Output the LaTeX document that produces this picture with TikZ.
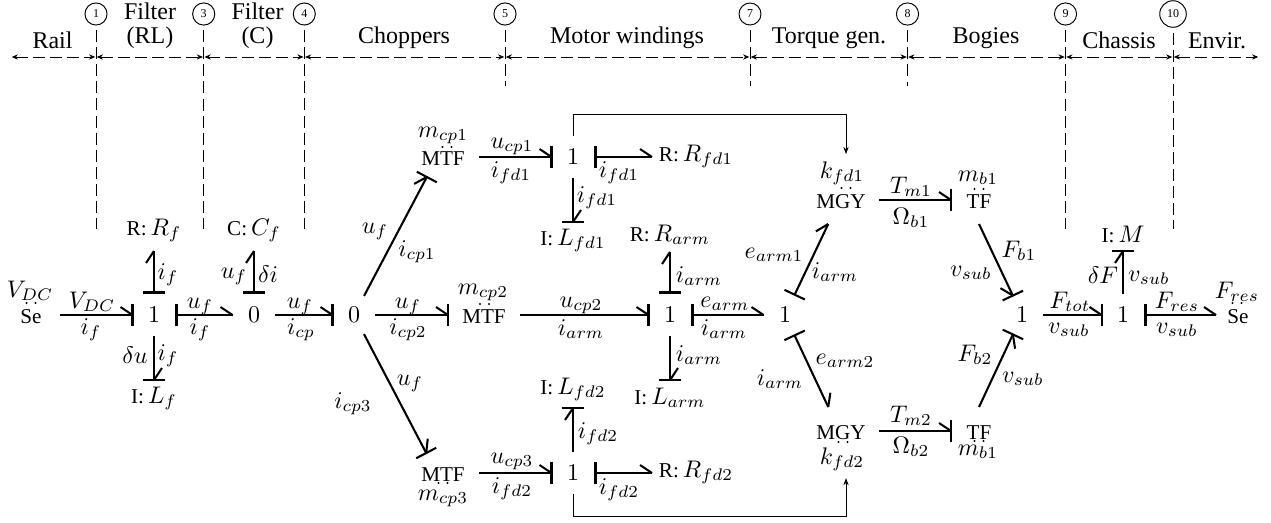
\documentclass[tikz,border=0pt]{standalone}
\usepackage[no-math]{fontspec}
\setmainfont{Liberation Serif}
\usetikzlibrary{arrows.meta,calc}
\newcommand{\twodots}[2]{\fill (#1-4.5,#2) circle (1.2) (#1+4.5,#2) circle (1.2);}
\newcommand{\et}[1]{{\fontsize{8.8}{10}\selectfont #1}}
% half arrow heads of the bonds: barb on the left, barb on the left with a bar, barb on the right with a bar
\pgfdeclarearrow{name=BarbL,
  setup code={\pgfarrowssettipend{0pt}\pgfarrowssetlineend{0pt}\pgfarrowssetbackend{-5pt}\pgfarrowssetvisualbackend{0pt}},
  drawing code={\pgfsetdash{}{0pt}\pgfpathmoveto{\pgfqpoint{-5pt}{3.33pt}}\pgfpathlineto{\pgfqpoint{0pt}{0pt}}\pgfusepathqstroke}}
\pgfdeclarearrow{name=BarbLBar,
  setup code={\pgfarrowssettipend{0pt}\pgfarrowssetlineend{0pt}\pgfarrowssetbackend{-5pt}\pgfarrowssetvisualbackend{0pt}},
  drawing code={\pgfsetdash{}{0pt}\pgfpathmoveto{\pgfqpoint{-5pt}{3.33pt}}\pgfpathlineto{\pgfqpoint{0pt}{0pt}}\pgfusepathqstroke
    \pgfpathmoveto{\pgfqpoint{0pt}{4.7pt}}\pgfpathlineto{\pgfqpoint{0pt}{-4.7pt}}\pgfusepathqstroke}}
\pgfdeclarearrow{name=BarbRBar,
  setup code={\pgfarrowssettipend{0pt}\pgfarrowssetlineend{0pt}\pgfarrowssetbackend{-5pt}\pgfarrowssetvisualbackend{0pt}},
  drawing code={\pgfsetdash{}{0pt}\pgfpathmoveto{\pgfqpoint{-5pt}{-3.33pt}}\pgfpathlineto{\pgfqpoint{0pt}{0pt}}\pgfusepathqstroke
    \pgfpathmoveto{\pgfqpoint{0pt}{4.7pt}}\pgfpathlineto{\pgfqpoint{0pt}{-4.7pt}}\pgfusepathqstroke}}
\tikzset{
  x=0.41667pt,y=-0.41667pt,
  jn/.style={circle,inner sep=0pt,outer sep=0pt,minimum size=17.9pt},
  el/.style 2 args={rectangle,inner sep=0pt,outer sep=0pt,text height=6.8pt,text depth=0pt,
    minimum width=#1*0.41667pt,minimum height=#2*0.41667pt},
  lbl/.style={anchor=base,inner sep=0pt,outer sep=0pt},
  klbl/.style={anchor=base,inner xsep=0pt,inner ysep=3pt,outer sep=0pt},
  title/.style={anchor=base,inner sep=0pt},
  num/.style={circle,draw,line width=0.4pt,inner sep=1.8pt,font=\tiny},
  bnd/.style={draw,line width=0.86pt,line cap=butt},
  cend/.style={bnd,-{BarbLBar}},
  cendr/.style={bnd,-{BarbRBar}},
  cstart/.style={bnd,{Bar[width=9.4pt]}-{BarbL}},
  vdash/.style={draw,line width=0.4pt,dash pattern=on 5pt off 2.1pt},
  adash/.style={draw,line width=0.4pt,dash pattern=on 5pt off 2.1pt,shorten >=0.3pt,shorten <=0.3pt,
    {Stealth[length=2.6pt,width=2.2pt]}-{Stealth[length=2.6pt,width=2.2pt]}},
  sig/.style={draw,line width=0.4pt,-{Stealth[length=3pt,width=2.2pt]}},
}
\begin{document}
\begin{tikzpicture}
\useasboundingbox (0,0) rectangle (1271,522);
% section numbers
\node[num] (c1) at (96,14) {1};
\node[num] (c3) at (203.7,14) {3};
\node[num] (c4) at (304.3,14) {4};
\node[num] (c5) at (505,14) {5};
\node[num] (c7) at (750,14) {7};
\node[num] (c8) at (907.5,14) {8};
\node[num] (c9) at (1065.5,14) {9};
\node[num] (c10) at (1173,14) {10};
% ends of the section lines
\coordinate (e1) at (96,229);
\coordinate (e3) at (203.7,229);
\coordinate (e4) at (304.3,229);
\coordinate (e5) at (505,86);
\coordinate (e7) at (750,86);
\coordinate (e8) at (907.5,86);
\coordinate (e9) at (1065.5,229);
\coordinate (e10) at (1173,229);
\draw[vdash,shorten <=2pt] (c1.south) -- (e1);
\draw[vdash,shorten <=2pt] (c3.south) -- (e3);
\draw[vdash,shorten <=2pt] (c4.south) -- (e4);
\draw[vdash,shorten <=2pt] (c5.south) -- (e5);
\draw[vdash,shorten <=2pt] (c7.south) -- (e7);
\draw[vdash,shorten <=2pt] (c8.south) -- (e8);
\draw[vdash,shorten <=2pt] (c9.south) -- (e9);
\draw[vdash,shorten <=2pt] (c10.south) -- (e10);
% axis
\coordinate (a0) at (11,57);
\coordinate (a1) at (96,57);
\coordinate (a3) at (203.7,57);
\coordinate (a4) at (304.3,57);
\coordinate (a5) at (505,57);
\coordinate (a7) at (750,57);
\coordinate (a8) at (907.5,57);
\coordinate (a9) at (1065.5,57);
\coordinate (a10) at (1173,57);
\coordinate (a11) at (1259,57);
\draw[adash] (a0) -- (a1);
\draw[adash] (a1) -- (a3);
\draw[adash] (a3) -- (a4);
\draw[adash] (a4) -- (a5);
\draw[adash] (a5) -- (a7);
\draw[adash] (a7) -- (a8);
\draw[adash] (a8) -- (a9);
\draw[adash] (a9) -- (a10);
\draw[adash] (a10) -- (a11);
% section titles
\node[title] (t1) at (52.5,48) {Rail};
\node[title] (t2a) at (150,20) {Filter};
\node[title] (t2b) at (150,44) {(RL)};
\node[title] (t3a) at (257.5,20) {Filter};
\node[title] (t3b) at (257.5,44) {(C)};
\node[title] (t4) at (404,43) {Choppers};
\node[title] (t5) at (627,43) {Motor windings};
\node[title] (t6) at (829,43) {Torque gen.};
\node[title] (t7) at (986,43) {Bogies};
\node[title] (t8) at (1119,48) {Chassis};
\node[title] (t9) at (1217,48) {Envir.};
% junctions
\node[jn] (j1a) at (154,315) {$1$};
\node[jn] (j0a) at (254,315) {$0$};
\node[jn] (j0b) at (354,315) {$0$};
\node[jn] (j1b) at (573,157) {$1$};
\node[jn] (j1c) at (670,315) {$1$};
\node[jn] (j1d) at (785,315) {$1$};
\node[jn] (j1e) at (573,473) {$1$};
\node[jn] (j1f) at (1022,315) {$1$};
\node[jn] (j1g) at (1123,315) {$1$};
% elements
\node[el={58}{30}] (se1) at (31,315) {\et{Se}};
\node[el={44}{30}] (se2) at (1238,315) {\et{Se}};
\node[el={30}{48}] (rf) at (154,227) {\et{R:}\,$R_f$};
\node[el={30}{48}] (cf) at (254,227) {\et{C:}\,$C_f$};
\node[el={30}{30}] (lf) at (154,395) {\et{I:}\,$L_f$};
\node[el={72}{40}] (mtf1) at (443,157) {\et{MTF}};
\node[el={72}{40}] (mtf2) at (484,315) {\et{MTF}};
\node[el={72}{40}] (mtf3) at (443,473) {\et{MTF}};
\node[el={88}{30},text depth=3.2pt] (rfd1) at (696,157) {\et{R:}\,$R_{fd1}$};
\node[el={88}{30},text depth=3.2pt] (rfd2) at (696,473) {\et{R:}\,$R_{fd2}$};
\node[el={30}{30}] (lfd1) at (573,237) {\et{I:}\,$L_{fd1}$};
\node[el={30}{44}] (lfd2) at (573,386) {\et{I:}\,$L_{fd2}$};
\node[el={30}{38}] (rarm) at (670,233) {\et{R:}\,$R_{arm}$};
\node[el={30}{32}] (larm) at (670,396) {\et{I:}\,$L_{arm}$};
\node[el={76}{48}] (mgy1) at (841,200) {\et{MGY}};
\node[el={76}{48}] (mgy2) at (841,431) {\et{MGY}};
\node[el={56}{48}] (tf1) at (979,200) {\et{TF}};
\node[el={56}{48}] (tf2) at (979,431) {\et{TF}};
\node[el={30}{34}] (im) at (1123,234) {\et{I:}\,$M$};
% modulation marks
\twodots{31}{303}
\twodots{1237}{303}
\twodots{447}{147}
\twodots{484.5}{304}
\twodots{443}{483}
\twodots{846}{188}
\twodots{843}{442}
\twodots{979}{189}
\twodots{979}{441}
% element parameters
\node[lbl] (pse1) at (30,297) {$V_{DC}$};
\node[lbl] (pse2) at (1237,298) {$F_{res}$};
\node[lbl] (pm1) at (443,137) {$m_{cp1}$};
\node[lbl] (pm2) at (483,294) {$m_{cp2}$};
\node[lbl] (pm3) at (443,500) {$m_{cp3}$};
\node[klbl] (kfd1) at (842,178) {$k_{fd1}$};
\node[klbl] (kfd2) at (842,464) {$k_{fd2}$};
\node[lbl] (pb1) at (978,181) {$m_{b1}$};
\node[lbl] (pb2) at (978,455) {$m_{b1}$};
% bonds
\draw[cend] (se1) -- (j1a);
\draw[cstart] (j1a) -- (j0a);
\draw[cstart] (j1a) -- (rf);
\draw[cstart] (j0a) -- (cf);
\draw[cend] (j0a) -- (j0b);
\draw[cend] (j1a) -- (lf);
\draw[cend] (j0b) -- (mtf1.231);
\draw[cend] (j0b) -- (mtf2);
\draw[cend] (j0b) -- (mtf3.130);
\draw[cend] (mtf1) -- (j1b);
\draw[cstart] (j1b) -- (rfd1);
\draw[cend] (j1b) -- (lfd1);
\draw[cend] (mtf2) -- (j1c);
\draw[cstart] (j1c) -- (rarm);
\draw[cend] (j1c) -- (larm);
\draw[cstart] (j1c) -- (j1d);
\draw[cend] (mtf3) -- (j1e);
\draw[cend] (j1e) -- (lfd2);
\draw[cstart] (j1e) -- (rfd2);
\draw[cstart] (j1d) -- (mgy1.242);
\draw[cstart] (j1d) -- (mgy2.118);
\draw[cend] (mgy1) -- (tf1);
\draw[cend] (mgy2) -- (tf2);
\draw[cendr] (tf1.south) -- (j1f);
\draw[cendr] (tf2.north) -- (j1f);
\draw[cend] (j1f) -- (j1g);
\draw[cend] (j1g) -- (im);
\draw[cstart] (j1g) -- (se2);
% signals
\coordinate (fba) at (846,114);
\coordinate (fbb) at (846,516);
\draw[sig] (j1b) |- (fba) -- (fba |- kfd1.north);
\draw[sig] (j1e) |- (fbb) -- (fbb |- kfd2.south);
% bond labels
\node[lbl] (b1) at (92,308) {$V_{DC}$};
\node[lbl] (b2) at (91,334) {$i_f$};
\node[lbl] (b3) at (168,279) {$i_f$};
\node[lbl] (b4) at (200,308) {$u_f$};
\node[lbl] (b5) at (200,334) {$i_f$};
\node[lbl] (b6) at (234,278) {$u_f$};
\node[lbl] (b7) at (268,282) {$\delta i$};
\node[lbl] (b8) at (300,308) {$u_f$};
\node[lbl] (b9) at (301,334) {$i_{cp}$};
\node[lbl] (b10) at (135,363) {$\delta u$};
\node[lbl] (b11) at (168,360) {$i_f$};
\node[lbl] (b12) at (408,308) {$u_f$};
\node[lbl] (b13) at (408,334) {$i_{cp2}$};
\node[lbl] (b14) at (375,233) {$u_f$};
\node[lbl] (b15) at (417,256) {$i_{cp1}$};
\node[lbl] (b16) at (410,385) {$u_f$};
\node[lbl] (b17) at (353,408) {$i_{cp3}$};
\node[lbl] (b18) at (512,148) {$u_{cp1}$};
\node[lbl] (b19) at (511,177) {$i_{fd1}$};
\node[lbl] (b20) at (619,177) {$i_{fd1}$};
\node[lbl] (b21) at (597,202) {$i_{fd1}$};
\node[lbl] (b22) at (581,307) {$u_{cp2}$};
\node[lbl] (b23) at (581,335) {$i_{arm}$};
\node[lbl] (b24) at (725,307) {$e_{arm}$};
\node[lbl] (b25) at (724,335) {$i_{arm}$};
\node[lbl] (b26) at (699,282) {$i_{arm}$};
\node[lbl] (b27) at (699,361) {$i_{arm}$};
\node[lbl] (b28) at (512,463) {$u_{cp3}$};
\node[lbl] (b29) at (512,493) {$i_{fd2}$};
\node[lbl] (b30) at (619,494) {$i_{fd2}$};
\node[lbl] (b31) at (598,438) {$i_{fd2}$};
\node[lbl] (b32) at (774,258) {$e_{arm1}$};
\node[lbl] (b33) at (835,278) {$i_{arm}$};
\node[lbl] (b34) at (845,364) {$e_{arm2}$};
\node[lbl] (b35) at (780,385) {$i_{arm}$};
\node[lbl] (b36) at (911,193) {$T_{m1}$};
\node[lbl] (b37) at (911,224) {$\Omega_{b1}$};
\node[lbl] (b38) at (911,422) {$T_{m2}$};
\node[lbl] (b39) at (911,453) {$\Omega_{b2}$};
\node[lbl] (b40) at (971,276) {$v_{sub}$};
\node[lbl] (b41) at (1019,257) {$F_{b1}$};
\node[lbl] (b42) at (975,361) {$F_{b2}$};
\node[lbl] (b43) at (1023,382) {$v_{sub}$};
\node[lbl] (b44) at (1070,308) {$F_{tot}$};
\node[lbl] (b45) at (1069,333) {$v_{sub}$};
\node[lbl] (b46) at (1177,308) {$F_{res}$};
\node[lbl] (b47) at (1177,333) {$v_{sub}$};
\node[lbl] (b48) at (1103,283) {$\delta F$};
\node[lbl] (b49) at (1149,281) {$v_{sub}$};
\end{tikzpicture}
\end{document}
